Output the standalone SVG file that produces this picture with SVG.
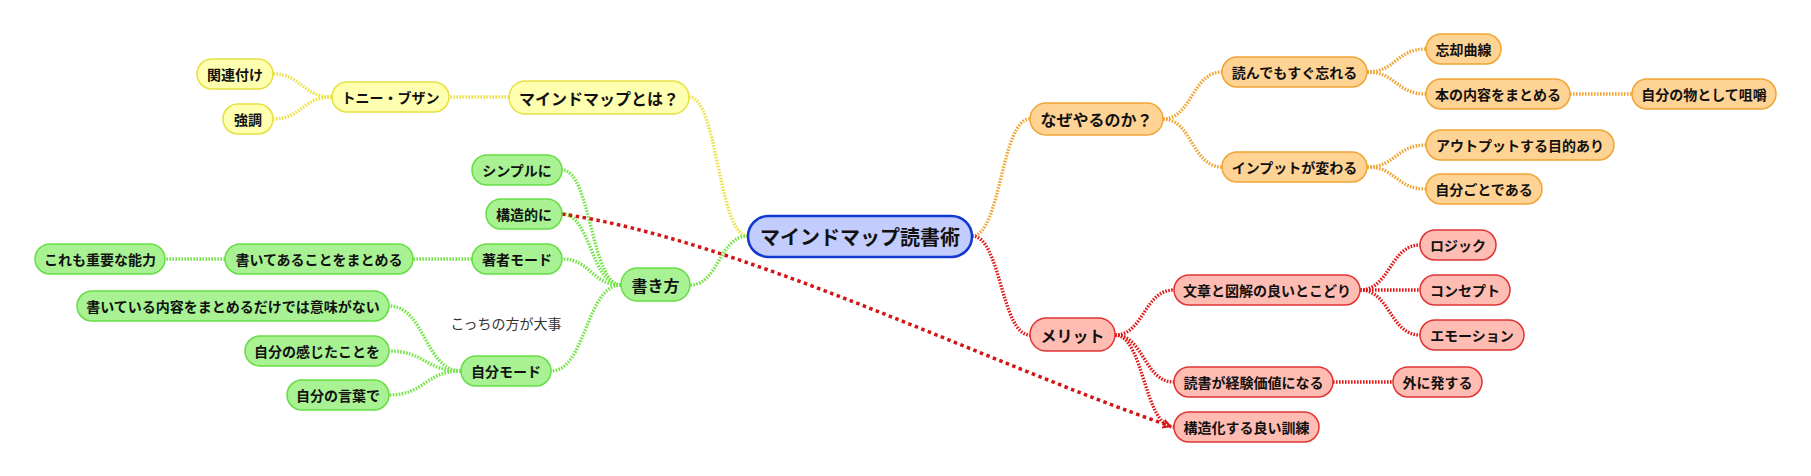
<svg xmlns="http://www.w3.org/2000/svg" width="1811" height="476" viewBox="0 0 1811 476">
<defs>
<style>
text{font-family:"Noto Sans CJK JP","Noto Sans CJK SC",sans-serif;font-weight:bold;fill:#111;text-anchor:middle;dominant-baseline:central;font-size:14px}
.l1 text{font-size:16px}
.c text{font-size:20px}
.c rect{fill:#c2ccfd;stroke:#1238d0;stroke-width:2.5}
.y rect{fill:#ffffb0;stroke:#e6e040;stroke-width:1.5}
.g rect{fill:#a8f294;stroke:#66dd44;stroke-width:1.5}
.o rect{fill:#ffd394;stroke:#f0a434;stroke-width:1.5}
.r rect{fill:#ffbcb2;stroke:#e03434;stroke-width:1.5}
.e path{fill:none;stroke-width:3.4;stroke-dasharray:1.6 1.4}
.ey{stroke:#ece244}
.eg{stroke:#74e446}
.eo{stroke:#f0a434}
.er{stroke:#e01818}
.e path.link{stroke:#d41414;stroke-width:3.5;stroke-dasharray:3.5 3.5}
.note{font-weight:normal;fill:#333}
</style>
<marker id="arr" markerWidth="10" markerHeight="10" refX="8" refY="5" orient="auto" markerUnits="userSpaceOnUse">
<path d="M1 1 L8 5 L1 9" fill="none" stroke="#d41414" stroke-width="2"/>
</marker>
</defs>
<g id="connectors" class="e">
<path class="eo" d="M972 236 C1001 236 1001 119 1030 119"/>
<path class="er" d="M972 236 C1001 236 1001 335 1030 335"/>
<path class="ey" d="M748 236 C718 236 718 97 689 97"/>
<path class="eg" d="M748 236 C719 236 719 285 690 285"/>
<path class="ey" d="M509 97 L449 97"/>
<path class="ey" d="M332 97 C302 97 302 74 273 74"/>
<path class="ey" d="M332 97 C302 97 302 119 273 119"/>
<path class="eg" d="M621 285 C591 285 591 170 562 170"/>
<path class="eg" d="M621 285 C591 285 591 214 562 214"/>
<path class="eg" d="M621 285 C591 285 591 259 562 259"/>
<path class="eg" d="M621 285 C586 285 586 371 551 371"/>
<path class="eg" d="M472 259 L413 259"/>
<path class="eg" d="M225 259 L165 259"/>
<path class="eg" d="M461 371 C425 371 425 306 389 306"/>
<path class="eg" d="M461 371 C425 371 425 351 389 351"/>
<path class="eg" d="M461 371 C425 371 425 395 389 395"/>
<path class="eo" d="M1163 119 C1192 119 1192 72 1222 72"/>
<path class="eo" d="M1163 119 C1192 119 1192 167 1222 167"/>
<path class="eo" d="M1367 72 C1396 72 1396 49 1426 49"/>
<path class="eo" d="M1367 72 C1396 72 1396 94 1426 94"/>
<path class="eo" d="M1570 94 L1632 94"/>
<path class="eo" d="M1367 167 C1396 167 1396 145 1426 145"/>
<path class="eo" d="M1367 167 C1396 167 1396 189 1426 189"/>
<path class="er" d="M1115 335 C1144 335 1144 290 1174 290"/>
<path class="er" d="M1115 335 C1144 335 1144 382 1174 382"/>
<path class="er" d="M1115 335 C1144 335 1144 427 1174 427"/>
<path class="er" d="M1360 290 C1390 290 1390 245 1420 245"/>
<path class="er" d="M1360 290 L1420 290"/>
<path class="er" d="M1360 290 C1390 290 1390 335 1420 335"/>
<path class="er" d="M1333 382 L1393 382"/>
<path class="link" d="M562 214 C740 240 980 360 1170 426" marker-end="url(#arr)"/>
</g>
<g id="n-root" class="c"><rect x="748" y="216" width="224" height="41" rx="20.5"/><text x="860" y="236.5">マインドマップ読書術</text></g>
<g id="n-about" class="y l1"><rect x="509" y="81" width="180" height="33" rx="16.5"/><text x="599" y="97.5">マインドマップとは？</text></g>
<g id="n-buzan" class="y"><rect x="332" y="82" width="117" height="30" rx="15"/><text x="390.5" y="97">トニー・ブザン</text></g>
<g id="n-kanren" class="y"><rect x="197" y="59" width="76" height="30" rx="15"/><text x="235" y="74">関連付け</text></g>
<g id="n-kyocho" class="y"><rect x="223" y="104" width="50" height="30" rx="15"/><text x="248" y="119">強調</text></g>
<g id="n-kakikata" class="g l1"><rect x="621" y="268" width="69" height="33" rx="16.5"/><text x="655.5" y="284.5">書き方</text></g>
<g id="n-simple" class="g"><rect x="472" y="155" width="90" height="30" rx="15"/><text x="517" y="170">シンプルに</text></g>
<g id="n-kozoteki" class="g"><rect x="486" y="199" width="76" height="30" rx="15"/><text x="524" y="214">構造的に</text></g>
<g id="n-chosha" class="g"><rect x="472" y="244" width="90" height="30" rx="15"/><text x="517" y="259">著者モード</text></g>
<g id="n-matome" class="g"><rect x="225" y="244" width="188" height="30" rx="15"/><text x="319" y="259">書いてあることをまとめる</text></g>
<g id="n-noryoku" class="g"><rect x="35" y="244" width="130" height="30" rx="15"/><text x="100" y="259">これも重要な能力</text></g>
<g id="n-jibun" class="g"><rect x="461" y="356" width="90" height="30" rx="15"/><text x="506" y="371">自分モード</text></g>
<g id="n-imi" class="g"><rect x="77" y="291" width="312" height="30" rx="15"/><text x="233" y="306">書いている内容をまとめるだけでは意味がない</text></g>
<g id="n-kanji" class="g"><rect x="245" y="336" width="144" height="30" rx="15"/><text x="317" y="351">自分の感じたことを</text></g>
<g id="n-kotoba" class="g"><rect x="287" y="380" width="102" height="30" rx="15"/><text x="338" y="395">自分の言葉で</text></g>
<g id="note"><text class="note" x="506" y="323">こっちの方が大事</text></g>
<g id="n-naze" class="o l1"><rect x="1030" y="103" width="133" height="32" rx="16"/><text x="1096.5" y="119">なぜやるのか？</text></g>
<g id="n-wasure" class="o"><rect x="1222" y="57" width="145" height="30" rx="15"/><text x="1294.5" y="72">読んでもすぐ忘れる</text></g>
<g id="n-input" class="o"><rect x="1222" y="152" width="145" height="30" rx="15"/><text x="1294.5" y="167">インプットが変わる</text></g>
<g id="n-bokyaku" class="o"><rect x="1426" y="34" width="75" height="30" rx="15"/><text x="1463.5" y="49">忘却曲線</text></g>
<g id="n-honmatome" class="o"><rect x="1426" y="79" width="144" height="30" rx="15"/><text x="1498" y="94">本の内容をまとめる</text></g>
<g id="n-soshaku" class="o"><rect x="1632" y="79" width="144" height="30" rx="15"/><text x="1704" y="94">自分の物として咀嚼</text></g>
<g id="n-output" class="o"><rect x="1426" y="130" width="188" height="30" rx="15"/><text x="1520" y="145">アウトプットする目的あり</text></g>
<g id="n-jibungoto" class="o"><rect x="1426" y="174" width="116" height="30" rx="15"/><text x="1484" y="189">自分ごとである</text></g>
<g id="n-merit" class="r l1"><rect x="1030" y="318" width="85" height="33" rx="16.5"/><text x="1072.5" y="334.5">メリット</text></g>
<g id="n-bunsho" class="r"><rect x="1174" y="275" width="186" height="30" rx="15"/><text x="1267" y="290">文章と図解の良いとこどり</text></g>
<g id="n-logic" class="r"><rect x="1420" y="230" width="76" height="30" rx="15"/><text x="1458" y="245">ロジック</text></g>
<g id="n-concept" class="r"><rect x="1420" y="275" width="90" height="30" rx="15"/><text x="1465" y="290">コンセプト</text></g>
<g id="n-emotion" class="r"><rect x="1420" y="320" width="104" height="30" rx="15"/><text x="1472" y="335">エモーション</text></g>
<g id="n-keiken" class="r"><rect x="1174" y="367" width="159" height="30" rx="15"/><text x="1253.5" y="382">読書が経験価値になる</text></g>
<g id="n-soto" class="r"><rect x="1393" y="367" width="89" height="30" rx="15"/><text x="1437.5" y="382">外に発する</text></g>
<g id="n-kunren" class="r"><rect x="1174" y="412" width="145" height="30" rx="15"/><text x="1246.5" y="427">構造化する良い訓練</text></g>
</svg>
